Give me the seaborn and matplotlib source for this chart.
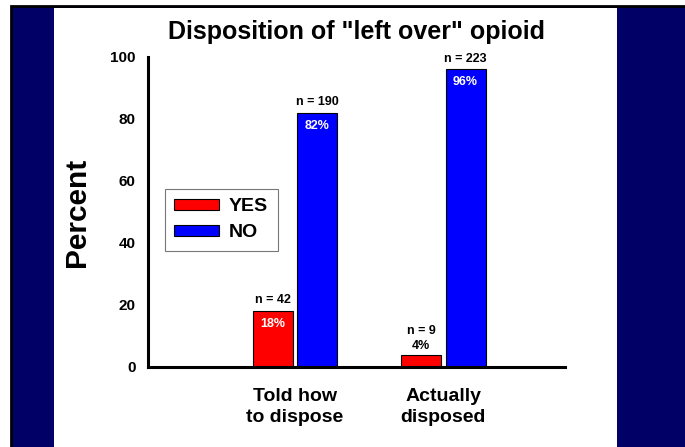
import seaborn as sns
import pandas as pd
import numpy as np
import matplotlib.pyplot as plt
from matplotlib.patches import Rectangle

categories = ["Told how\nto dispose", "Actually\ndisposed"]
yes_pct = [18, 4]
no_pct = [82, 96]
yes_n = [42, 9]
no_n = [190, 223]
groups = ["YES", "NO"]
yticks = [0, 20, 40, 60, 80, 100]

df = pd.DataFrame({
    "cat": categories * 2,
    "grp": ["YES"] * 2 + ["NO"] * 2,
    "pct": yes_pct + no_pct,
    "n": yes_n + no_n,
})

sns.set_style("white")
plt.rcParams['font.family'] = ['Liberation Sans', 'DejaVu Sans']
plt.rcParams['font.weight'] = 'bold'
plt.rcParams['text.color'] = 'black'
plt.rcParams['xtick.color'] = 'black'
plt.rcParams['ytick.color'] = 'black'
plt.rcParams['axes.labelcolor'] = 'black'
plt.rcParams['axes.edgecolor'] = 'black'

fig = plt.figure(figsize=(6.85, 4.47), dpi=100, facecolor="white")

# slide background: black frame, navy side panels, white middle
fig.patches.append(Rectangle((11/685, -0.02), 1 - 9/685, 1.02 - 6/447, transform=fig.transFigure,
                             facecolor="#000066", edgecolor="black", linewidth=2, zorder=-3))
fig.patches.append(Rectangle((54/685, -0.02), (617-54)/685, 1.02 - 8/447, transform=fig.transFigure,
                             facecolor="white", edgecolor="none", zorder=-2))

ax = fig.add_axes([148/685, 1 - 367/447, (565-148)/685, (367-57)/447])
ax.set_facecolor("none")

sns.barplot(data=df, x="cat", y="pct", hue="grp", hue_order=groups,
            palette={"YES": "#ff0000", "NO": "#0000ff"}, saturation=1, width=0.6, gap=0.1,
            edgecolor="black", linewidth=0.8, ax=ax)

ax.set_xlim(-0.99, 1.82)
ax.set_ylim(0, 100)
ax.set_yticks(yticks)
ax.set_yticks(np.arange(10, 100, 20), minor=True)
ax.tick_params(axis="y", which="major", length=6, width=2, labelsize=11, pad=3)
ax.tick_params(axis="y", which="minor", length=4, width=2)
ax.tick_params(axis="x", length=6, width=2, labelsize=14, pad=9)
for lab in ax.get_xticklabels() + ax.get_yticklabels():
    lab.set_fontweight("bold")
for lab in ax.get_xticklabels():
    lab.set_linespacing(1.35)
for s in ["top", "right"]:
    ax.spines[s].set_visible(False)
for s in ["left", "bottom"]:
    ax.spines[s].set_linewidth(2.2)

ax.set_xlabel("")
ax.set_ylabel("Percent", fontsize=21.5, fontweight="bold", labelpad=14)
ax.set_title('Disposition of "left over" opioid', fontsize=18, fontweight="bold", pad=13)

# labels on bars
for cont, grp in zip(ax.containers, groups):
    sub = df[df["grp"] == grp]
    for bar, pct, n in zip(cont, sub["pct"], sub["n"]):
        xc = bar.get_x() + bar.get_width() / 2
        top = bar.get_height()
        if pct >= 10:
            ax.annotate(f"n = {n}", (xc, top), xytext=(0, 3.5), textcoords="offset points",
                        ha="center", va="bottom", fontsize=9, fontweight="bold")
            ax.annotate(f"{pct}%", (xc, top), xytext=(0, -5), textcoords="offset points",
                        ha="center", va="top", fontsize=9, fontweight="bold", color="white")
        else:
            ax.annotate(f"{pct}%", (xc, top), xytext=(0, 2), textcoords="offset points",
                        ha="center", va="bottom", fontsize=9, fontweight="bold")
            ax.annotate(f"n = {n}", (xc, top), xytext=(0, 12.5), textcoords="offset points",
                        ha="center", va="bottom", fontsize=9, fontweight="bold")

leg = ax.legend(loc="upper left", bbox_to_anchor=(0.04, 0.575), frameon=True, fancybox=False,
                handlelength=2.3, handleheight=0.45, handletextpad=0.5, borderpad=0.5,
                labelspacing=0.45, prop={"family": "Liberation Sans", "size": 14, "weight": "bold"},
                borderaxespad=0)
leg.get_frame().set_edgecolor("#555555")
leg.get_frame().set_linewidth(0.8)

fig.savefig("out.png", dpi=100, facecolor=fig.get_facecolor())
